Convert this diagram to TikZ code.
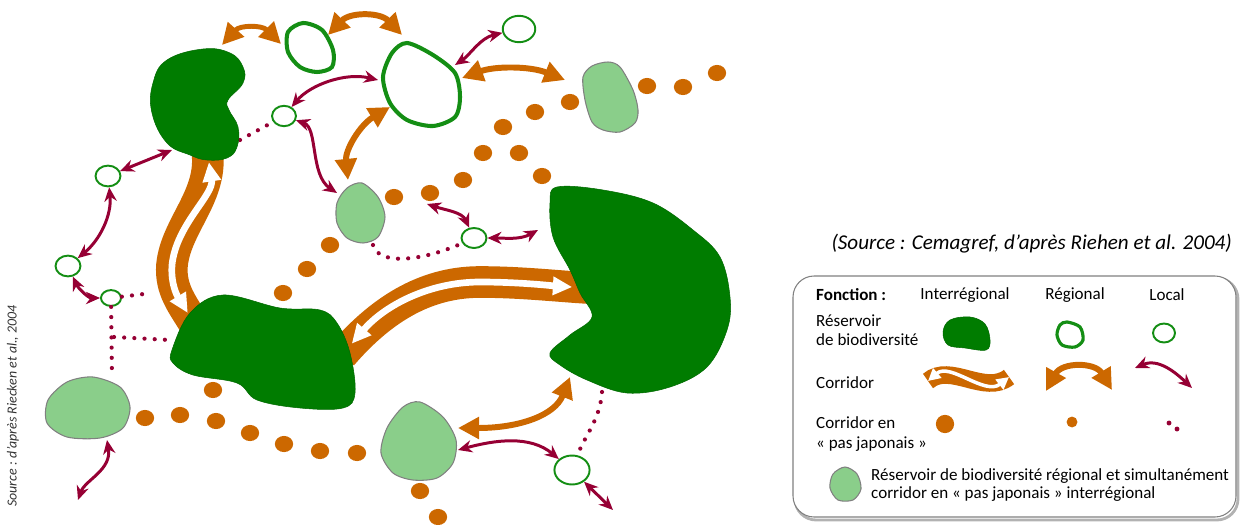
\documentclass[tikz,border=0pt]{standalone}
\usepackage{fontspec}
\setmainfont{Carlito}
\usetikzlibrary{arrows.meta,shapes.geometric}
\definecolor{dkgreen}{RGB}{0,124,0}
\definecolor{ltgreen}{RGB}{138,206,138}
\definecolor{ringgreen}{RGB}{20,142,20}
\definecolor{corange}{RGB}{204,104,0}
\definecolor{crimson}{RGB}{150,0,52}

\begin{document}
\begin{tikzpicture}[x=0.02cm, y=-0.02cm,
  interres/.style={fill=dkgreen, draw=dkgreen!85!black, line width=0.3pt},
  stepres/.style={fill=ltgreen, draw=gray, line width=0.6pt},
  regring/.style={draw=ringgreen, line width=2.3pt},
  locring/.style={ellipse, draw=ringgreen, line width=1.1pt, inner sep=0pt},
  stone/.style={fill=corange},
  band/.style={draw=corange, line width=18pt},
  bandarrow/.style={draw=white, line width=3.8pt, {Triangle[length=11pt,width=10pt]}-{Triangle[length=11pt,width=10pt]}},
  regarrow/.style={draw=corange, line width=3.4pt, {Triangle[length=12pt,width=12pt]}-{Triangle[length=12pt,width=12pt]}},
  locarrow/.style={draw=crimson, line width=1.7pt, {Stealth[length=8pt,width=7pt]}-{Stealth[length=8pt,width=7pt]}},
  locdots/.style={draw=crimson, line width=2.4pt, line cap=round, dash pattern=on 0pt off 5.8pt},
  legtext/.style={font=\fontsize{9.7}{11}\selectfont, align=left}]
\useasboundingbox (0,0) rectangle (1240,524);

% attach points on the reservoirs
\coordinate (A-ne) at (222,45);  \coordinate (A-w) at (172,150);
\coordinate (A-se) at (240,140); \coordinate (A-s) at (207,150);
\coordinate (B-w) at (281,44);   \coordinate (B-e) at (328,35);
\coordinate (C-nw) at (402,35);  \coordinate (C-e) at (462,78);
\coordinate (C-sw) at (390,107); \coordinate (C-w) at (378,80);
\coordinate (C-ne) at (455,65);  \coordinate (E-w) at (565,80);
\coordinate (F-n) at (348,180);  \coordinate (F-nw) at (337,193);
\coordinate (F-s) at (373,245);  \coordinate (G-w) at (538,230);
\coordinate (G-w2) at (588,288); \coordinate (G-sw) at (570,377);
\coordinate (G-s) at (602,392);  \coordinate (H-n) at (195,325);
\coordinate (H-e) at (342,355);  \coordinate (H-w) at (170,340);
\coordinate (J-e) at (458,428);  \coordinate (J-e2) at (458,450);
\coordinate (L-n) at (112,377);  \coordinate (L-s) at (107,440);
\coordinate (gap1) at (427,204); \coordinate (fork) at (114,337);
\coordinate (corr-w) at (152,293);
\coordinate (end-bl) at (78,500); \coordinate (end-br) at (613,510);

% stepping stones
\foreach \x/\y in {647/86,683/87,717/73,570/102,535/112,503/127,483/153,519/153,
  463/180,542/176,430/193,394/197,330/245,307/269,283/293,213/390,
  145/418,180/415,216/421,250/433,284/444,320/451,357/453,420/491,438/517}
  \fill[stone] (\x,\y) ellipse [x radius=5.2pt, y radius=4.6pt];

% local rings
\node[locring, minimum width=18.5pt, minimum height=15pt] (l-top) at (519,29) {};
\node[locring, minimum width=13.6pt, minimum height=11.6pt] (l-mid) at (284,116) {};
\node[locring, minimum width=14.2pt, minimum height=11.4pt] (l-dot) at (474,238) {};
\node[locring, minimum width=20pt, minimum height=16.5pt] (l-bot) at (572,470) {};
\node[locring, minimum width=14.2pt, minimum height=11.8pt] (l-o) at (108,176) {};
\node[locring, minimum width=14.2pt, minimum height=11.8pt] (l-n) at (68,266) {};
\node[locring, minimum width=11.4pt, minimum height=9pt] (l-m) at (111,298) {};

% dotted links
\draw[locdots] (A-se) -- (l-mid);
\draw[locdots] (F-s) .. controls (378,265) and (420,262) .. (l-dot);
\draw[locdots] (l-m) -- (corr-w);
\draw[locdots] (l-m) -- (L-n);
\draw[locdots] (fork) -- (H-w);
\draw[locdots] (G-s) .. controls (600,420) and (585,435) .. (l-bot);

% interregional corridors
\draw[band] (A-s) .. controls (214,195) and (176,225) .. (172,265) .. controls (170,290) and (183,305) .. (H-n);
\draw[bandarrow, shorten <=7pt, shorten >=8pt] (A-s) .. controls (214,195) and (176,225) .. (172,265) .. controls (170,290) and (183,305) .. (H-n);
\draw[band] (H-e) .. controls (385,305) and (430,282) .. (480,282) .. controls (520,282) and (555,286) .. (G-w2);
\draw[bandarrow, shorten <=8.5pt, shorten >=9pt] (H-e) .. controls (385,305) and (430,282) .. (480,282) .. controls (520,282) and (555,286) .. (G-w2);

% reservoirs
\fill[interres] plot[smooth cycle, tension=0.7] coordinates {(167,60) (203,49) (230,53) (243,67) (243,83) (228,100) (229,110) (238,127) (237,147) (227,158) (207,160) (190,155) (167,143) (152,113) (153,83)};
\fill[interres] plot[smooth cycle, tension=0.6] coordinates {(557,187) (603,190) (653,203) (693,230) (720,257) (730,297) (727,330) (707,367) (670,387) (627,393) (587,380) (560,365) (550,353) (570,335) (592,317) (580,293) (570,270) (553,237) (550,203)};
\fill[interres] plot[smooth cycle, tension=0.6] coordinates {(172,350) (190,313) (223,295) (280,308) (320,310) (337,323) (350,353) (355,393) (343,408) (300,408) (257,400) (237,383) (193,375) (173,363)};
\filldraw[stepres] plot[smooth cycle] coordinates {(608,62) (620,67) (633,90) (638,110) (635,123) (620,132) (603,130) (592,122) (585,100) (583,77) (592,66)};
\filldraw[stepres] plot[smooth cycle] coordinates {(362,183) (378,197) (385,217) (378,237) (363,243) (347,238) (337,223) (337,203) (347,188)};
\filldraw[stepres] plot[smooth cycle] coordinates {(420,402) (443,417) (456,440) (453,463) (437,478) (413,480) (393,473) (381,453) (387,428) (403,407)};
\filldraw[stepres] plot[smooth cycle] coordinates {(93,377) (120,387) (130,407) (123,428) (100,438) (67,437) (47,423) (48,400) (67,382)};
\draw[regring] plot[smooth cycle] coordinates {(303,23) (322,30) (333,50) (332,67) (317,72) (300,67) (288,52) (288,32)};
\draw[regring] plot[smooth cycle] coordinates {(407,43) (433,55) (455,73) (460,97) (455,117) (433,126) (407,120) (390,103) (383,77) (392,53)};

% regional corridors
\draw[regarrow, line width=2.8pt] (A-ne) .. controls (240,25) and (262,25) .. (B-w);
\draw[regarrow] (B-e) .. controls (350,12) and (380,12) .. (C-nw);
\draw[regarrow] (C-e) .. controls (495,66) and (530,66) .. (E-w);
\draw[regarrow] (C-sw) .. controls (360,125) and (345,150) .. (F-n);
\draw[regarrow] (G-sw) .. controls (555,415) and (520,428) .. (J-e);

% local corridors
\draw[locarrow] (C-ne) .. controls (470,55) and (480,38) .. (l-top);
\draw[locarrow] (C-w) .. controls (345,72) and (310,85) .. (l-mid);
\draw[locarrow] (l-mid) .. controls (318,128) and (310,175) .. (F-nw);
\draw[locarrow] (gap1) .. controls (445,210) and (462,212) .. (l-dot);
\draw[locarrow] (l-dot) .. controls (505,238) and (520,240) .. (G-w);
\draw[locarrow] (l-o) -- (A-w);
\draw[locarrow] (l-o) .. controls (112,215) and (100,240) .. (l-n);
\draw[locarrow] (l-n) .. controls (78,288) and (88,298) .. (l-m);
\draw[locarrow] (L-s) .. controls (112,470) and (85,480) .. (end-bl);
\draw[locarrow] (J-e2) .. controls (495,440) and (530,435) .. (l-bot);
\draw[locarrow] (l-bot) -- (end-br);

% sources
\node[anchor=east, font=\fontsize{12}{13}\selectfont\itshape] (src) at (1238,244) {(Source : Cemagref, d'après Riehen et al. 2004)};
\node[rotate=90, font=\fontsize{7.9}{9}\selectfont\itshape, text=black!80] (srcv) at (13,406) {Source : d'après Riecken et al., 2004};

% legend
\draw[gray!60, line width=1.6pt, rounded corners=12pt] (795,278) rectangle (1238,520);
\draw[gray, fill=white, line width=0.6pt, rounded corners=12pt] (793,276) rectangle (1236,517);
\node[legtext, anchor=west, font=\fontsize{9.7}{11}\selectfont\bfseries] (fonction) at (810,295) {Fonction :};
\node[legtext] (h-inter) at (965,295) {Interrégional};
\node[legtext] (h-reg) at (1075,295) {Régional};
\node[legtext] (h-loc) at (1167,295) {Local};
\node[legtext, anchor=west] (t-res) at (810,330) {Réservoir\\de biodiversité};
\node[legtext, anchor=west] (t-cor) at (810,383) {Corridor};
\node[legtext, anchor=west] (t-pas) at (810,434) {Corridor en\\« pas japonais »};
\node[legtext, anchor=west, font=\fontsize{9.7}{10}\selectfont] (t-both) at (865,485) {Réservoir de biodiversité régional et simultanément\\corridor en « pas japonais » interrégional};

\fill[interres] plot[smooth cycle, tension=0.6] coordinates {(950,320) (970,317) (985,324) (990,340) (986,350) (965,348) (948,345) (943,332)};
\draw[regring, line width=1.8pt] plot[smooth cycle] coordinates {(1067,322) (1080,327) (1083,340) (1075,347) (1062,345) (1057,335) (1060,325)};
\node[locring, minimum width=12.5pt, minimum height=10.8pt] (leg-loc) at (1164,333) {};

\coordinate (leg-ia) at (928,381); \coordinate (leg-ib) at (1009,377);
\draw[band, line width=10pt] (leg-ia) .. controls (950,362) and (985,396) .. (leg-ib);
\draw[bandarrow, line width=2pt, {Triangle[length=7pt,width=7pt]}-{Triangle[length=7pt,width=7pt]}] (leg-ia) .. controls (950,362) and (985,396) .. (leg-ib);
\coordinate (leg-ra) at (1046,391); \coordinate (leg-rb) at (1112,390);
\draw[regarrow] (leg-ra) .. controls (1062,362) and (1095,362) .. (leg-rb);
\coordinate (leg-la) at (1135,368); \coordinate (leg-lb) at (1192,388);
\draw[locarrow] (leg-la) .. controls (1158,358) and (1175,372) .. (leg-lb);

\fill[stone] (945,424) circle [radius=5.2pt];
\fill[stone] (1072,422) circle [radius=3.1pt];
\fill[crimson] (1169,423) circle [radius=1.4pt];
\fill[crimson] (1177,429) circle [radius=1.4pt];
\filldraw[stepres] plot[smooth cycle] coordinates {(845,467) (857,474) (861,489) (853,500) (838,500) (830,488) (833,474)};
\end{tikzpicture}
\end{document}
